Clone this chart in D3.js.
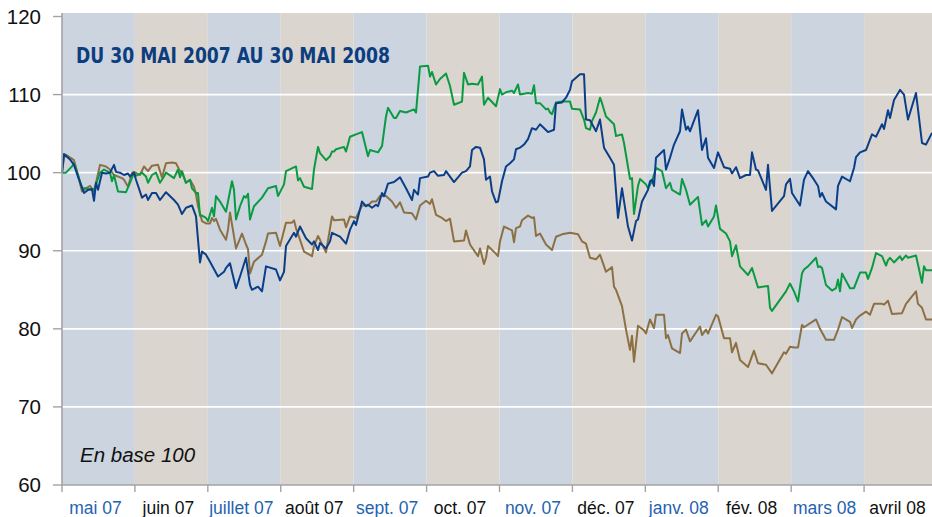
<!DOCTYPE html>
<html lang="fr">
<head>
  <meta charset="UTF-8">
  <title>Du 30 mai 2007 au 30 mai 2008</title>
  <script src="https://d3js.org/d3.v7.min.js"></script>
  <style>
    body { margin: 0; background: #fff; }
    svg { display: block; font-family: "Liberation Sans", Arial, sans-serif; }
    .line { fill: none; stroke-width: 2px; stroke-linejoin: round; }
  </style>
</head>
<body>
  <svg width="932" height="517"></svg>
  <script>
    // mois affichés en bas (bandes alternées)
    var mois = ["mai 07", "juin 07", "juillet 07", "août 07", "sept. 07", "oct. 07",
                "nov. 07", "déc. 07", "janv. 08", "fév. 08", "mars 08", "avril 08"];
    var yTicks = [60, 70, 80, 90, 100, 110, 120];

    // [séance, indice base 100]
    var serieBleue = [
      [0,100],[1,102.4],[4,101.7],[6,101],[8,99.5],[11,97.4],[13,97.8],[15,97.9],[16,96.4],[17,98.7],
      [18,97.8],[20,100],[22,99.9],[24,100],[26,101],[27,100.1],[29,100],[31,99.7],[33,99.9],[34,99.5],
      [36,100],[37,99.1],[40,96.8],[42,97.2],[43,96.5],[45,97.4],[47,97.4],[49,96.5],[52,97.5],[56,96.5],
      [58,95.9],[60,94.7],[62,95.5],[65,95.8],[67,94.4],[69,88.5],[70,89.9],[72,89.5],[74,88.6],[78,86.7],
      [81,87.3],[82,87.8],[84,88.4],[85,87.3],[87,85.2],[89,86.7],[92,89.1],[94,85.6],[95,85],[98,85.4],
      [100,84.8],[102,88],[107,87.6],[109,86.2],[111,87.3],[112,90.6],[116,92.3],[117,91.8],[119,93.1],[122,91.6],
      [125,90.8],[126,91.2],[128,90.1],[129,91],[132,90.3],[134,91.2],[135,92.3],[139,91.8],[142,90.9],[144,92.7],
      [146,93.8],[147,93.3],[150,96.3],[152,95.7],[153,95.9],[155,95.5],[157,95.9],[158,95.7],[160,97.4],[161,97],
      [163,98.6],[166,98.8],[169,99.4],[172,98],[175,96.5],[176,97.8],[178,97.2],[179,99.3],[183,99.5],[184,100],
      [186,100.2],[188,99.6],[191,99.7],[192,100.2],[194,99.5],[196,98.8],[200,100],[202,100.2],[204,100.8],[205,102.9],
      [207,103.3],[209,103.2],[211,101.7],[212,99.1],[214,99.5],[215,97.6],[217,96.2],[218,96.3],[220,98.9],[222,100.8],
      [224,101.2],[226,101.7],[227,103],[229,103.2],[231,103.6],[233,104.3],[235,105.7],[237,105.5],[239,106.2],[243,105.2],
      [246,105.5],[247,108.9],[250,109],[252,109.6],[254,110.6],[255,111.7],[259,112.6],[261,112.6],[262,106.8],[264,106.7],
      [267,105.3],[269,106.8],[271,103.2],[274,101.9],[276,101],[278,94.2],[280,98],[283,93.1],[285,91.3],[287,93.8],
      [288,94],[290,96.3],[293,97.8],[294,98.9],[295,99.1],[296,98.3],[297,101.9],[301,102.9],[302,100.4],[304,101.9],
      [306,103.6],[309,105.3],[310,108.1],[312,105.5],[313,105.9],[314,105.3],[318,108],[320,102.9],[322,104.4],[323,101.9],
      [326,100.6],[328,102.6],[331,100.7],[334,100.5],[335,99.9],[337,100.7],[339,99.3],[342,99.7],[344,99.7],[345,102.6],
      [347,100.4],[348,100.3],[352,97.8],[353,101],[355,95.1],[361,97],[362,98.5],[364,99.2],[365,97.4],[369,95.8],
      [371,99.1],[373,100.2],[376,99.1],[378,98.3],[379,96.9],[380,97.4],[382,96.3],[387,95.3],[388,98.3],[390,99.5],
      [394,98.9],[396,100.6],[397,102],[399,102.6],[402,102.9],[405,104.9],[407,104.6],[410,106.2],[411,105.6],[413,108],
      [414,107],[416,109.3],[419,110.6],[421,110],[423,106.8],[427,110.2],[428,108.1],[430,103.8],[432,103.6],[435,105.1]
    ];
    var serieVerte = [
      [0,100],[2,100],[5,100.8],[6,101.2],[8,99.7],[10,98],[12,98],[14,97.8],[16,97.8],[17,98.5],
      [19,100],[21,100.4],[24,100],[25,98.9],[26,99.7],[28,97.6],[32,97.5],[34,98.7],[36,100],[37,99.6],
      [40,100],[42,99.5],[43,98.7],[45,99.7],[47,100],[49,98.7],[51,99.5],[52,100],[56,99.3],[58,100.4],
      [59,99.4],[60,100.2],[62,98.7],[64,99.1],[65,98],[67,97.4],[68,97.4],[69,94.5],[70,94.5],[72,94.2],
      [73,93.8],[75,95.5],[76,94.4],[77,97],[79,96.3],[82,95],[85,98.9],[86,97.8],[87,94],[89,95.7],
      [91,97],[92,96.8],[93,97.3],[94,94],[96,95.7],[100,96.8],[103,98],[107,98.3],[108,97],[111,98.5],
      [112,100.2],[117,100.8],[118,99],[119,99.3],[121,98.2],[125,97.9],[126,100.4],[128,103.3],[129,102.5],[132,101.6],
      [134,102.1],[135,102.7],[136,102.7],[137,103],[141,103.3],[142,102.7],[144,104.6],[147,104.9],[150,105.2],[153,102.1],
      [154,102.9],[158,102.6],[160,103.4],[162,107.2],[163,108.3],[166,107],[167,107],[169,107.9],[172,107.7],[176,108.1],
      [177,107.7],[179,113.6],[183,113.7],[184,112.3],[185,112.9],[187,111.3],[189,112],[192,112.7],[194,111.1],[196,108.7],
      [200,109.1],[201,112.8],[203,111.3],[205,111.4],[208,111.3],[210,112.3],[211,108.7],[213,109.6],[217,108.5],[219,110.7],
      [220,110],[222,110.3],[225,110.5],[226,110.2],[228,111.3],[229,110],[233,110.2],[235,110.1],[236,111.2],[237,108.9],
      [239,108.9],[242,108.1],[243,108.2],[244,107.7],[245,107.5],[247,109],[250,109.1],[254,109.1],[255,108.2],[259,108.1],
      [261,106.8],[262,105.7],[264,105.5],[265,106.6],[267,107.7],[269,109.6],[270,108.9],[272,107.2],[276,106.2],[277,104.7],
      [280,104.9],[281,103.8],[284,99.2],[285,99.3],[286,94.7],[288,98.3],[289,99.2],[292,98.5],[293,98],[295,98.9],
      [297,100.6],[300,100.2],[302,98],[304,98.7],[305,97.8],[309,97.2],[310,99.2],[312,97.8],[314,95.9],[318,96.9],
      [320,93.3],[322,93.9],[323,93.1],[326,94.4],[327,95.8],[329,92.8],[332,92.2],[334,91.2],[335,89.3],[337,90.7],
      [339,88],[343,86.9],[345,87.8],[348,85.3],[353,85.5],[354,82.7],[355,82.3],[362,84.8],[364,85.8],[366,84.8],
      [368,83.5],[370,87.1],[371,87.6],[373,88],[377,89.1],[378,87.9],[379,88],[380,87.8],[382,85.6],[385,84.9],
      [387,85.2],[388,86.3],[389,84.8],[390,87.1],[394,85.2],[396,85.2],[399,87.2],[402,87.2],[403,86.4],[405,87.8],
      [407,89.7],[410,89.3],[412,88.1],[413,88.8],[414,89.1],[416,88.5],[419,89.3],[420,88.8],[422,89.4],[423,89.1],
      [427,89.4],[430,85.9],[431,88],[432,87.5],[435,87.5]
    ];
    var serieBrune = [
      [0,100],[1,101.9],[2,102.3],[6,101.6],[8,99.7],[10,97.6],[12,98],[14,98.3],[16,97.6],[17,98.7],
      [19,101],[22,100.8],[24,100.4],[26,99.7],[30,99.3],[31,99.1],[33,98.2],[35,100],[36,100.1],[39,99.7],
      [41,100.8],[43,100.2],[45,100.9],[48,101],[50,99.4],[52,101.2],[55,101.3],[57,101.2],[59,100.2],[60,100],
      [62,98.7],[64,99.1],[66,98.2],[67,97.2],[68,95.7],[70,93.8],[72,93.5],[74,93.5],[75,94.2],[76,93.8],
      [77,94.1],[79,92.7],[82,91.4],[83,92.7],[84,94.9],[87,90.3],[90,92.2],[92,90.8],[93,90.2],[94,87.1],
      [96,88.6],[100,89.5],[102,91.2],[103,92.2],[107,92.3],[109,90.6],[112,93.6],[115,93.6],[116,93.9],[117,92.9],
      [121,89.9],[125,89.3],[126,90.6],[128,91.9],[129,91.4],[132,89.8],[135,94.4],[136,93.9],[141,94],[142,93],
      [144,94.4],[147,94.2],[150,95.8],[153,95.8],[155,96.3],[157,96.3],[159,97],[162,97],[165,96.3],[167,95.5],
      [169,96.2],[171,94.9],[175,94.8],[177,94],[179,95.8],[182,96.4],[184,96],[185,96.6],[187,94.6],[190,94.2],
      [192,93.8],[194,94.1],[196,91.2],[201,91.3],[202,92.6],[204,90.8],[208,89.3],[209,90.3],[211,88.3],[212,89.1],
      [213,90.6],[217,89.6],[218,89.3],[219,91.2],[221,93.1],[225,92.6],[226,91.1],[227,92.9],[229,93.1],[230,93.9],
      [233,94.5],[235,94.2],[236,94.3],[237,91.9],[239,92.2],[242,90.8],[245,90.1],[247,91.8],[250,92.1],[254,92.3],
      [258,92.1],[260,91.2],[262,90.9],[264,89.1],[267,88.9],[269,89.5],[272,87.3],[275,87.9],[276,85.4],[277,85],
      [280,82.9],[282,79.9],[284,77.3],[285,79.1],[286,75.8],[288,80.4],[291,79.8],[292,79.4],[294,81.2],[296,80.1],
      [297,81.8],[301,81.8],[302,78.8],[303,79.2],[305,77.5],[309,76.9],[310,79.4],[312,79.9],[314,78.4],[319,80.3],
      [320,79.2],[322,79.9],[323,79.4],[327,81.8],[328,81.6],[331,78.8],[334,78.8],[335,77],[337,78.2],[339,76],
      [343,75.1],[346,77.2],[348,75.6],[352,75.4],[355,74.3],[361,77],[362,76.8],[364,77.7],[366,77.6],[368,77.6],
      [370,80.5],[371,80.2],[377,81.2],[379,80],[382,78.6],[386,78.6],[388,79.9],[390,81.5],[394,80.9],[395,80.1],
      [397,81.2],[399,81.7],[402,82.2],[404,81.8],[406,83.2],[410,83.2],[411,83.1],[413,83.6],[415,81.9],[420,82],
      [422,83.2],[427,84.8],[428,83.2],[430,82.7],[432,81.2],[435,81.2]
    ];

    var series = [
      {nom: "brune", valeurs: serieBrune, couleur: "#8c7044"},
      {nom: "verte", valeurs: serieVerte, couleur: "#0a9a42"},
      {nom: "bleue", valeurs: serieBleue, couleur: "#0b3e88"}
    ];

    // attention : "top" est réservé (window.top), d'où ces noms
    var svg = d3.select("svg"),
        plotL = 62, plotR = 932, plotT = 13, plotB = 485;

    var x = d3.scaleLinear().domain([0, 435]).range([plotL, plotR]);
    var y = d3.scaleLinear().domain([60, 120]).range([plotB, 16.5]);
    var xMois = d3.scaleBand().domain(mois).range([plotL, 937]);

    // bandes de fond alternées
    svg.append("g").selectAll("rect")
      .data(mois)
      .enter().append("rect")
        .attr("x", function(d) { return xMois(d); })
        .attr("y", plotT)
        .attr("width", xMois.bandwidth())
        .attr("height", plotB - plotT)
        .attr("fill", function(d, i) { return i % 2 ? "#dad5cf" : "#cbd4df"; });

    // quadrillage blanc
    svg.append("g").selectAll("line")
      .data(yTicks.filter(function(d) { return d > 60 && d < 120; }))
      .enter().append("line")
        .attr("x1", plotL).attr("x2", plotR)
        .attr("y1", function(d) { return y(d); })
        .attr("y2", function(d) { return y(d); })
        .attr("stroke", "#fff")
        .attr("stroke-width", 1.6);

    // titre et mention
    svg.append("text")
      .attr("x", 76).attr("y", 63)
      .attr("fill", "#0c3d7e")
      .style("font-family", "'DejaVu Sans Condensed', 'Liberation Sans Narrow', sans-serif")
      .style("font-weight", "bold")
      .style("font-size", "21px")
      .attr("textLength", 314)
      .attr("lengthAdjust", "spacingAndGlyphs")
      .text("DU 30 MAI 2007 AU 30 MAI 2008");

    svg.append("text")
      .attr("x", 80).attr("y", 462)
      .attr("fill", "#111")
      .style("font-style", "italic")
      .style("font-size", "20.5px")
      .text("En base 100");

    // courbes
    var ligne = d3.line()
      .x(function(d) { return x(d[0]); })
      .y(function(d) { return y(d[1]); });

    svg.append("g").selectAll("path")
      .data(series)
      .enter().append("path")
        .attr("class", "line")
        .attr("stroke", function(d) { return d.couleur; })
        .attr("d", function(d) { return ligne(d.valeurs); });

    // axe vertical
    var axeY = svg.append("g");
    axeY.append("line")
      .attr("x1", plotL).attr("x2", plotL)
      .attr("y1", plotT).attr("y2", plotB)
      .attr("stroke", "#a3a3a3").attr("stroke-width", 1.6);
    axeY.selectAll(".tick")
      .data(yTicks)
      .enter().append("line")
        .attr("x1", 53).attr("x2", plotL)
        .attr("y1", function(d) { return y(d); })
        .attr("y2", function(d) { return y(d); })
        .attr("stroke", "#a3a3a3").attr("stroke-width", 1.4);
    axeY.selectAll("text")
      .data(yTicks)
      .enter().append("text")
        .attr("x", 41)
        .attr("y", function(d) { return y(d); })
        .attr("dy", "0.36em")
        .attr("text-anchor", "end")
        .attr("fill", "#111")
        .style("font-size", "20.5px")
        .text(function(d) { return d; });

    // axe horizontal
    var axeX = svg.append("g");
    axeX.append("line")
      .attr("x1", plotL).attr("x2", plotR)
      .attr("y1", plotB).attr("y2", plotB)
      .attr("stroke", "#a3a3a3").attr("stroke-width", 1.6);
    axeX.selectAll(".tick")
      .data(mois)
      .enter().append("line")
        .attr("x1", function(d) { return xMois(d); })
        .attr("x2", function(d) { return xMois(d); })
        .attr("y1", plotB).attr("y2", plotB + 7)
        .attr("stroke", "#a3a3a3").attr("stroke-width", 1.4);
    axeX.selectAll("text")
      .data(mois)
      .enter().append("text")
        .attr("x", function(d) { return xMois(d) + xMois.bandwidth() / 2 - 3; })
        .attr("y", 514)
        .attr("text-anchor", "middle")
        .attr("fill", function(d, i) { return i % 2 ? "#111" : "#1f63b0"; })
        .style("font-size", "17.5px")
        .text(function(d) { return d; });
  </script>
</body>
</html>
